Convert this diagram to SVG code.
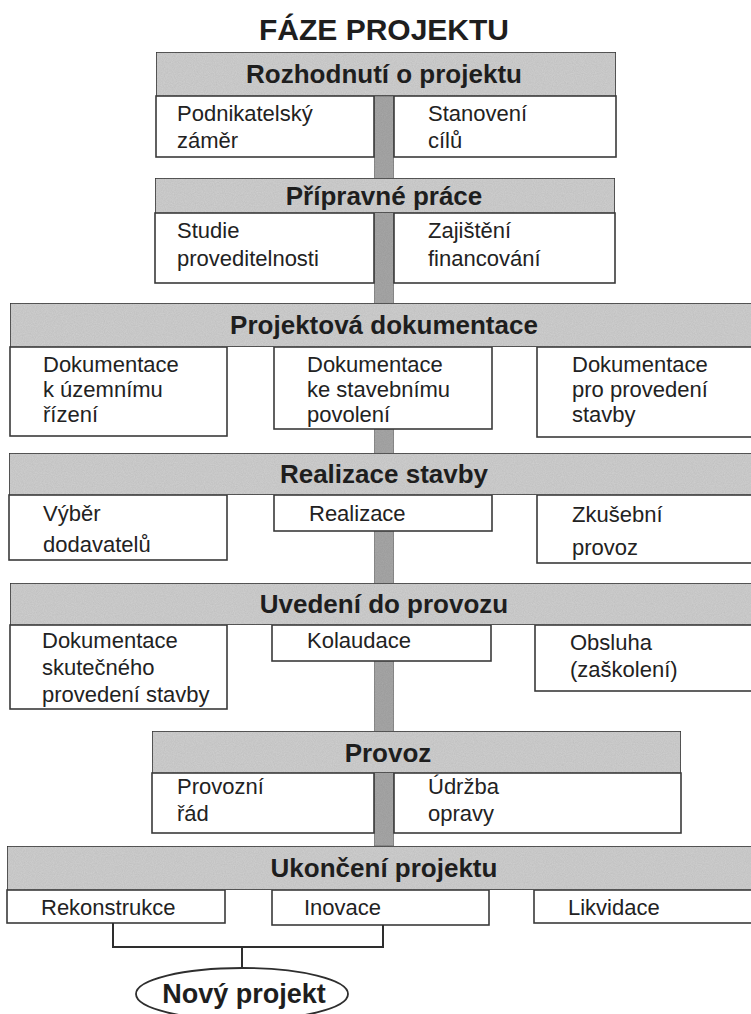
<svg xmlns="http://www.w3.org/2000/svg" width="751" height="1014" viewBox="0 0 751 1014">
  <style>
    .hdr { fill: #d0d0d0; stroke: #3a3a3a; stroke-width: 1.6; }
    .cell { fill: #ffffff; stroke: #3a3a3a; stroke-width: 1.6; }
    .spine { fill: #a8a8a8; stroke: #707070; stroke-width: 1; }
    .title { font-family: "Liberation Sans", Arial, sans-serif; font-weight: bold; font-size: 30px; fill: #1e1e1e; text-anchor: middle; }
    .htxt { font-family: "Liberation Sans", Arial, sans-serif; font-weight: bold; font-size: 26px; fill: #1e1e1e; text-anchor: middle; }
    .txt { font-family: "Liberation Sans", Arial, sans-serif; font-size: 22px; fill: #222222; }
    .link { fill: none; stroke: #2e2e2e; stroke-width: 2; }
    .oval { fill: #ffffff; stroke: #2e2e2e; stroke-width: 1.8; }
    .otxt { font-family: "Liberation Sans", Arial, sans-serif; font-weight: bold; font-size: 27px; fill: #1e1e1e; text-anchor: middle; }
  </style>
  <defs>
    <filter id="grain" x="0" y="0" width="100%" height="100%">
      <feTurbulence type="fractalNoise" baseFrequency="0.9" numOctaves="2" seed="3" result="n"/>
      <feColorMatrix in="n" type="matrix" values="0 0 0 0 0  0 0 0 0 0  0 0 0 0 0  0 0 0 0.18 0" result="dots"/>
      <feComposite in="dots" in2="SourceGraphic" operator="in" result="clip"/>
      <feMerge><feMergeNode in="SourceGraphic"/><feMergeNode in="clip"/></feMerge>
    </filter>
  </defs>

  <rect x="0" y="0" width="751" height="1014" fill="#ffffff"/>

  <text class="title" x="384" y="40">FÁZE PROJEKTU</text>

  <!-- central spine running behind the phases -->
  <g id="spine">
    <rect class="spine" x="374" y="96" width="20" height="750" filter="url(#grain)"/>
  </g>

  <!-- phase 1 -->
  <g id="rozhodnuti">
    <rect class="cell" x="156" y="96" width="218" height="61"/>
    <rect class="cell" x="394" y="96" width="222" height="61"/>
    <rect class="hdr" x="156" y="52" width="460" height="44" filter="url(#grain)"/>
    <text class="htxt" x="384" y="83">Rozhodnutí o projektu</text>
    <text class="txt" x="177" y="121">Podnikatelský</text>
    <text class="txt" x="177" y="148">záměr</text>
    <text class="txt" x="428" y="121">Stanovení</text>
    <text class="txt" x="428" y="148">cílů</text>
  </g>

  <!-- phase 2 -->
  <g id="pripravne">
    <rect class="cell" x="155" y="213" width="219" height="70"/>
    <rect class="cell" x="394" y="213" width="221" height="70"/>
    <rect class="hdr" x="155" y="178" width="460" height="35" filter="url(#grain)"/>
    <text class="htxt" x="384" y="205">Přípravné práce</text>
    <text class="txt" x="177" y="238">Studie</text>
    <text class="txt" x="177" y="266">proveditelnosti</text>
    <text class="txt" x="428" y="238">Zajištění</text>
    <text class="txt" x="428" y="266">financování</text>
  </g>

  <!-- phase 3 -->
  <g id="dokumentace">
    <rect class="cell" x="10" y="347" width="217" height="89"/>
    <rect class="cell" x="274" y="347" width="218" height="82"/>
    <rect class="cell" x="537" y="347" width="230" height="90"/>
    <rect class="hdr" x="10" y="303" width="760" height="44" filter="url(#grain)"/>
    <text class="htxt" x="384" y="334">Projektová dokumentace</text>
    <text class="txt" x="43" y="372">Dokumentace</text>
    <text class="txt" x="43" y="397">k územnímu</text>
    <text class="txt" x="43" y="422">řízení</text>
    <text class="txt" x="307" y="372">Dokumentace</text>
    <text class="txt" x="307" y="397">ke stavebnímu</text>
    <text class="txt" x="307" y="422">povolení</text>
    <text class="txt" x="572" y="372">Dokumentace</text>
    <text class="txt" x="572" y="397">pro provedení</text>
    <text class="txt" x="572" y="422">stavby</text>
  </g>

  <!-- phase 4 -->
  <g id="realizace">
    <rect class="cell" x="9" y="495" width="218" height="65"/>
    <rect class="cell" x="274" y="495" width="218" height="36"/>
    <rect class="cell" x="537" y="495" width="230" height="68"/>
    <rect class="hdr" x="9" y="453" width="761" height="42" filter="url(#grain)"/>
    <text class="htxt" x="384" y="483">Realizace stavby</text>
    <text class="txt" x="43" y="521">Výběr</text>
    <text class="txt" x="43" y="552">dodavatelů</text>
    <text class="txt" x="309" y="521">Realizace</text>
    <text class="txt" x="572" y="522">Zkušební</text>
    <text class="txt" x="572" y="555">provoz</text>
  </g>

  <!-- phase 5 -->
  <g id="uvedeni">
    <rect class="cell" x="10" y="625" width="217" height="84"/>
    <rect class="cell" x="272" y="625" width="219" height="36"/>
    <rect class="cell" x="535" y="625" width="232" height="66"/>
    <rect class="hdr" x="10" y="583" width="760" height="42" filter="url(#grain)"/>
    <text class="htxt" x="384" y="613">Uvedení do provozu</text>
    <text class="txt" x="42" y="648">Dokumentace</text>
    <text class="txt" x="42" y="675">skutečného</text>
    <text class="txt" x="42" y="702">provedení stavby</text>
    <text class="txt" x="307" y="648">Kolaudace</text>
    <text class="txt" x="570" y="650">Obsluha</text>
    <text class="txt" x="570" y="677">(zaškolení)</text>
  </g>

  <!-- phase 6 -->
  <g id="provoz">
    <rect class="cell" x="152" y="773" width="222" height="60"/>
    <rect class="cell" x="394" y="773" width="287" height="60"/>
    <rect class="hdr" x="152" y="731" width="529" height="42" filter="url(#grain)"/>
    <text class="htxt" x="388" y="762">Provoz</text>
    <text class="txt" x="177" y="794">Provozní</text>
    <text class="txt" x="177" y="821">řád</text>
    <text class="txt" x="428" y="794">Údržba</text>
    <text class="txt" x="428" y="821">opravy</text>
  </g>

  <!-- phase 7 -->
  <g id="ukonceni">
    <rect class="cell" x="7" y="890" width="218" height="33"/>
    <rect class="cell" x="272" y="890" width="217" height="35"/>
    <rect class="cell" x="534" y="890" width="233" height="33"/>
    <rect class="hdr" x="7" y="846" width="763" height="44" filter="url(#grain)"/>
    <text class="htxt" x="384" y="877">Ukončení projektu</text>
    <text class="txt" x="41" y="915">Rekonstrukce</text>
    <text class="txt" x="304" y="915">Inovace</text>
    <text class="txt" x="568" y="915">Likvidace</text>
  </g>

  <!-- links from the closing phase to a new project -->
  <g id="connectors">
    <polyline class="link" points="113,923 113,947 383,947 383,925"/>
    <line class="link" x1="242" y1="947" x2="242" y2="968"/>
  </g>

  <g id="novy-projekt">
    <ellipse class="oval" cx="242" cy="994" rx="106" ry="26"/>
    <text class="otxt" x="244" y="1003">Nový projekt</text>
  </g>
</svg>
